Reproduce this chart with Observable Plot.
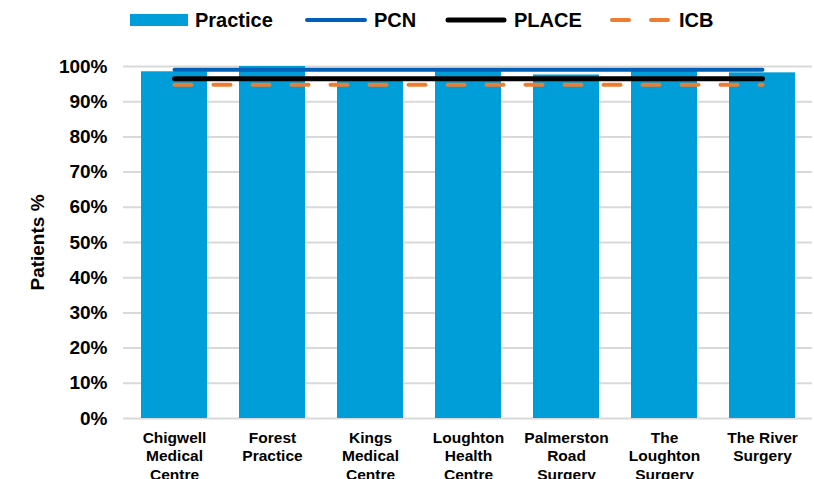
<!DOCTYPE html>
<html>
<head>
<meta charset="utf-8">
<script src="https://cdn.jsdelivr.net/npm/d3@7"></script>
<script src="https://cdn.jsdelivr.net/npm/@observablehq/plot@0.6"></script>
<style>
  body { margin: 0; background: #fff; font-family: "Liberation Sans", Arial, sans-serif; font-weight: bold; }
  #legend { position: relative; width: 814px; height: 40px; }
  .item { position: absolute; top: 0; height: 40px; display: flex; align-items: center; font-size: 20px; color: #000; white-space: nowrap; }
  .item svg { margin-right: 7px; }
  #chart svg { display: block; }
</style>
</head>
<body>
<div id="legend"></div>
<div id="chart"></div>
<script>
// ---- data ----
const practices = [
  "Chigwell Medical Centre",
  "Forest Practice",
  "Kings Medical Centre",
  "Loughton Health Centre",
  "Palmerston Road Surgery",
  "The Loughton Surgery",
  "The River Surgery"
];
const practiceLabels = [
  "Chigwell\nMedical\nCentre",
  "Forest\nPractice",
  "Kings\nMedical\nCentre",
  "Loughton\nHealth\nCentre",
  "Palmerston\nRoad\nSurgery",
  "The\nLoughton\nSurgery",
  "The River\nSurgery"
];
const practiceValues = [98.5, 100.0, 96.8, 99.0, 97.6, 99.0, 98.2];
const pcnValue = 99.05;
const placeValue = 96.5;
const icbValue = 94.8;
const yTicks = [0, 10, 20, 30, 40, 50, 60, 70, 80, 90, 100];
const seriesNames = ["Practice", "PCN", "PLACE", "ICB"];
const seriesColors = ["#009ed8", "#0060b8", "#000000", "#ed7d31"];

// ---- tables ----
const bars = practices.map((p, i) => ({practice: p, value: practiceValues[i]}));
const pcnLine = practices.map(p => ({practice: p, value: pcnValue}));
const placeLine = practices.map(p => ({practice: p, value: placeValue}));
const icbLine = practices.map(p => ({practice: p, value: icbValue}));
const labelOf = new Map(practices.map((p, i) => [p, practiceLabels[i]]));

// ---- legend ----
const legend = document.getElementById("legend");
const legendItems = [
  {left: 130, svg: `<svg width="58" height="12"><rect x="0" y="0" width="58" height="12" fill="${seriesColors[0]}"/></svg>`},
  {left: 305, svg: `<svg width="62" height="8"><line x1="2" y1="4" x2="60" y2="4" stroke="${seriesColors[1]}" stroke-width="4" stroke-linecap="round"/></svg>`},
  {left: 445, svg: `<svg width="62" height="8"><line x1="3" y1="4" x2="59" y2="4" stroke="${seriesColors[2]}" stroke-width="5" stroke-linecap="round"/></svg>`},
  {left: 610, svg: `<svg width="62" height="8"><line x1="2" y1="4" x2="60" y2="4" stroke="${seriesColors[3]}" stroke-width="4" stroke-linecap="round" stroke-dasharray="17,22"/></svg>`}
];
legendItems.forEach((it, i) => {
  const d = document.createElement("div");
  d.className = "item";
  d.style.left = it.left + "px";
  d.innerHTML = it.svg + `<span>${seriesNames[i]}</span>`;
  legend.appendChild(d);
});

// ---- chart ----
const chart = Plot.plot({
  width: 814,
  height: 439,
  marginTop: 26,
  marginBottom: 61,
  marginLeft: 123,
  marginRight: 2,
  style: {fontFamily: '"Liberation Sans", Arial, sans-serif', fontWeight: "bold", color: "#000", background: "#fff"},
  x: {domain: practices, paddingInner: 0.33, paddingOuter: 0.165},
  y: {domain: [0, 100]},
  marks: [
    Plot.gridY(yTicks, {stroke: "#d9d9d9", strokeOpacity: 1, strokeWidth: 2}),
    Plot.barY(bars, {x: "practice", y: "value", fill: seriesColors[0]}),
    Plot.lineY(pcnLine, {x: "practice", y: "value", stroke: seriesColors[1], strokeWidth: 4, strokeLinecap: "round"}),
    Plot.lineY(placeLine, {x: "practice", y: "value", stroke: seriesColors[2], strokeWidth: 5, strokeLinecap: "round"}),
    Plot.lineY(icbLine, {x: "practice", y: "value", stroke: seriesColors[3], strokeWidth: 4, strokeLinecap: "round", strokeDasharray: "17,22"}),
    Plot.axisY(yTicks, {tickSize: 0, tickPadding: 16, fontSize: 19, tickFormat: d => d + "%", label: "Patients %", labelAnchor: "center", labelArrow: "none", labelOffset: 93}),
    Plot.axisX({tickSize: 0, tickPadding: 11, fontSize: 15.5, lineHeight: 1.2, tickFormat: d => labelOf.get(d), label: null})
  ]
});
document.getElementById("chart").appendChild(chart);
</script>
</body>
</html>
